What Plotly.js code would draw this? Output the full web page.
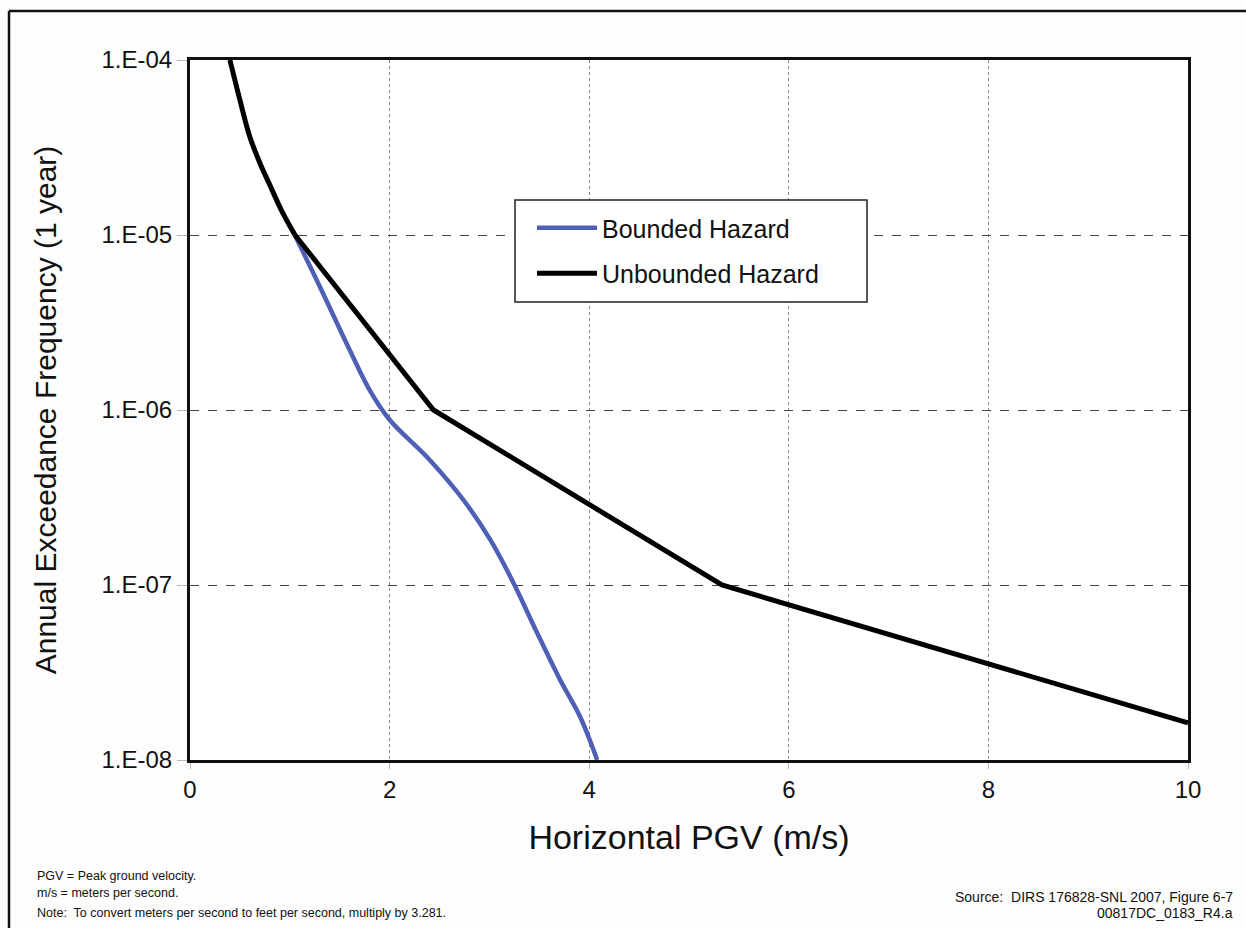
<!DOCTYPE html>
<html>
<head>
<meta charset="utf-8">
<script src="https://cdn.plot.ly/plotly-3.0.1.min.js"></script>
<style>
html,body{margin:0;padding:0;background:#fff;}
#chart{width:1246px;height:928px;}
</style>
</head>
<body>
<div id="chart"></div>
<script>
// Bounded hazard curve
const boundedX = [1.05, 1.33, 1.60, 1.80, 2.00, 2.40, 2.74, 3.01, 3.24, 3.48, 3.71, 3.91, 4.08];
const boundedY = [1.0e-5, 4.68e-6, 2.2e-6, 1.3e-6, 8.8e-7, 5.2e-7, 3.06e-7, 1.81e-7, 1.03e-7, 5.3e-8, 2.86e-8, 1.76e-8, 1.0e-8];
// Unbounded hazard curve: curved upper part and straight segments below 1E-05
const unboundedUpperX = [0.40, 0.50, 0.60, 0.70, 0.80, 0.92, 1.052];
const unboundedUpperY = [1.0e-4, 5.91e-5, 3.63e-5, 2.58e-5, 1.93e-5, 1.37e-5, 1.0e-5];
const unboundedLowerX = [1.052, 2.44, 5.33, 10.0];
const unboundedLowerY = [1.0e-5, 1.0e-6, 1.0e-7, 1.63e-8];
// Axis ticks
const xTicks = [0, 2, 4, 6, 8, 10];
const yTickVals = [1e-8, 1e-7, 1e-6, 1e-5, 1e-4];
const yTickText = ["1.E-08", "1.E-07", "1.E-06", "1.E-05", "1.E-04"];

const font = "Liberation Sans, Arial, sans-serif";

const traces = [
  {x: boundedX, y: boundedY, name: "Bounded Hazard", legendgroup: "a", mode: "lines", line: {color: "#4f5fb5", width: 4.5, shape: "spline", smoothing: 1.0}},
  {x: unboundedLowerX, y: unboundedLowerY, name: "Unbounded Hazard", legendgroup: "b", mode: "lines", line: {color: "#000000", width: 5}},
  {x: unboundedUpperX, y: unboundedUpperY, name: "Unbounded Hazard", legendgroup: "b", showlegend: false, mode: "lines", line: {color: "#000000", width: 5, shape: "spline", smoothing: 1.0}}
];

const layout = {
  width: 1246, height: 928,
  paper_bgcolor: "#fdfdfd", plot_bgcolor: "#ffffff",
  margin: {l: 190, r: 58, t: 60, b: 168},
  font: {family: font, color: "#111"},
  showlegend: true,
  legend: {
    x: (532-190)/998, y: (760-205)/700, xanchor: "left", yanchor: "top",
    bgcolor: "rgba(0,0,0,0)", borderwidth: 0,
    font: {size: 25, family: font, color: "#111"},
    traceorder: "grouped", tracegroupgap: 10, itemwidth: 60
  },
  xaxis: {
    range: [0, 10], tickvals: xTicks, ticktext: xTicks.map(String),
    showgrid: true, gridcolor: "#888", gridwidth: 1, griddash: "dot",
    showline: true, linecolor: "#111", linewidth: 3, mirror: true,
    ticks: "outside", ticklen: 6, tickcolor: "#bbb",
    zeroline: false,
    tickfont: {size: 24, family: font, color: "#111"},
    title: {text: "Horizontal PGV (m/s)", font: {size: 34, family: font, color: "#111"}, standoff: 24}
  },
  yaxis: {
    type: "log", range: [-8, -4], tickvals: yTickVals, ticktext: yTickText,
    showgrid: true, gridcolor: "#444", gridwidth: 1, griddash: "dash",
    showline: true, linecolor: "#111", linewidth: 3, mirror: true,
    ticks: "outside", ticklen: 10, tickcolor: "#bbb",
    zeroline: false,
    tickfont: {size: 24, family: font, color: "#111"},
    title: {text: "Annual Exceedance Frequency (1 year)", font: {size: 30, family: font, color: "#111"}, standoff: 36}
  },
  shapes: [
    {type: "line", xref: "paper", yref: "paper", x0: -181/998, x1: 1.1, y0: 749/700, y1: 749/700, line: {color: "#111", width: 2.5}},
    {type: "line", xref: "paper", yref: "paper", x0: -181/998, x1: -181/998, y0: 749/700, y1: -0.3, line: {color: "#111", width: 2.5}},
    {type: "rect", xref: "paper", yref: "paper", layer: "above", x0: (515-190)/998, x1: (867-190)/998, y0: (760-302)/700, y1: (760-200)/700, fillcolor: "#ffffff", line: {color: "#222", width: 1.5}}
  ],
  annotations: [
    {xref: "paper", yref: "paper", x: -155/998, y: -(876-760)/700, xanchor: "left", yanchor: "middle", showarrow: false, text: "PGV = Peak ground velocity.", font: {size: 12.5, family: font, color: "#111"}},
    {xref: "paper", yref: "paper", x: -155/998, y: -(893-760)/700, xanchor: "left", yanchor: "middle", showarrow: false, text: "m/s = meters per second.", font: {size: 12.5, family: font, color: "#111"}},
    {xref: "paper", yref: "paper", x: -155/998, y: -(913-760)/700, xanchor: "left", yanchor: "middle", showarrow: false, text: "Note:  To convert meters per second to feet per second, multiply by 3.281.", font: {size: 12.5, family: font, color: "#111"}},
    {xref: "paper", yref: "paper", x: (1235-190)/998, y: -(897-760)/700, xanchor: "right", yanchor: "middle", showarrow: false, text: "Source:  DIRS 176828-SNL 2007, Figure 6-7", font: {size: 14, family: font, color: "#111"}},
    {xref: "paper", yref: "paper", x: (1235-190)/998, y: -(913-760)/700, xanchor: "right", yanchor: "middle", showarrow: false, text: "00817DC_0183_R4.a", font: {size: 14, family: font, color: "#111"}}
  ]
};

Plotly.newPlot("chart", traces, layout, {displayModeBar: false, staticPlot: true});
</script>
</body>
</html>
